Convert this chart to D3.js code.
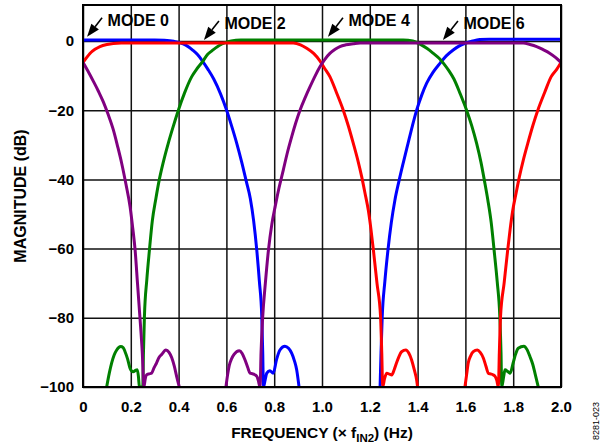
<!DOCTYPE html>
<html>
<head>
<meta charset="utf-8">
<script src="https://cdn.jsdelivr.net/npm/d3@7"></script>
<style>
  body { margin: 0; background: #fff; }
  text { font-family: "Liberation Sans", Arial, sans-serif; font-weight: bold; }
</style>
</head>
<body>
<div id="chart"></div>
<script>
// tick values
var xTicks = [0, 0.2, 0.4, 0.6, 0.8, 1.0, 1.2, 1.4, 1.6, 1.8, 2.0];
var yTicks = [0, -20, -40, -60, -80, -100];

// blue (mode 0) response, null = gap below -100 dB
var blueF = [0, 0.1, 0.2, 0.3, 0.34, 0.38, 0.406, 0.43, 0.46, 0.48, 0.5, 0.523, 0.547, 0.575, 0.601, 0.622, 0.643, 0.664, 0.683, 0.70, 0.714, 0.727, 0.738, 0.748, 0.752, 0.755,
  0.762, 0.769, 0.782, 0.796, 0.81, 0.824, 0.845, 0.86, 0.873, 0.885, 0.894, 0.904, null,
  1.243, 1.247, 1.252, 1.263, 1.276, 1.29, 1.305, 1.322, 1.34, 1.36, 1.378, 1.396, 1.418, 1.438, 1.465, 1.494, 1.52, 1.549, 1.575, 1.605, 1.63, 1.66, 1.7, 1.8, 2.0];
var blueDb = [0.3, 0.3, 0.3, 0.3, 0.2, -0.1, -0.5, -1.2, -2.7, -4.0, -5.8, -8.2, -11, -15.2, -20, -24.6, -29.5, -35, -40.5, -45.5, -52, -60.4, -69.5, -79.7, -90, -100,
  -98, -96, -95.3, -96, -92, -89.3, -88.2, -88.8, -90.2, -92.5, -95, -100, null,
  -100, -90, -79.7, -69.5, -60.4, -52.5, -46, -40.5, -35.2, -29.6, -24.6, -20, -15.5, -12.2, -9, -6.4, -4.3, -2.6, -1.4, -0.5, 0, 0.4, 0.5, 0.5, 0.5];

// green (mode 2)
var greenF = [0.099, 0.11, 0.12, 0.13, 0.141, 0.158, 0.168, 0.176, 0.187, 0.197, 0.21, 0.22, 0.227, 0.232, 0.236, 0.25, 0.253, 0.257, 0.267, 0.278, 0.29, 0.305, 0.318, 0.336, 0.357, 0.378, 0.399, 0.425, 0.455, 0.475, 0.5, 0.52, 0.54, 0.57, 0.595, 0.62, 0.66, 0.8, 1.0, 1.2, 1.34,
  1.38, 1.41, 1.44, 1.466, 1.49, 1.51, 1.53, 1.552, 1.578, 1.605, 1.627, 1.647, 1.665, 1.68, 1.694, 1.708, 1.72, 1.733, 1.744, 1.749, 1.752,
  1.76, 1.766, 1.777, 1.787, 1.8, 1.81, 1.821, 1.845, 1.858, 1.87, 1.882, 1.891, 1.905];
var greenDb = [-100, -96, -93, -90.8, -89.3, -88.3, -88.6, -89.8, -92, -94.6, -95.6, -95.2, -95, -97, -100, -100, -90, -79.7, -69, -60.4, -52, -45.5, -40.5, -35, -29.5, -24.6, -20, -15, -10.3, -8.2, -6.0, -4.0, -2.8, -1.3, -0.5, 0, 0.3, 0.3, 0.3, 0.3, 0.3,
  0, -0.9, -2.2, -3.6, -5.0, -6.6, -8.5, -11, -15.2, -20, -24.6, -29.6, -35, -40.5, -46, -52.5, -60.4, -69.5, -79.7, -90, -100,
  -97, -95, -95.5, -96, -93, -90.5, -88.8, -88.2, -89.2, -91.2, -93.5, -96, -100];

// red (mode 4)
var redF = [0, 0.015, 0.029, 0.05, 0.071, 0.1, 0.127, 0.16, 0.5, 0.88, 0.91, 0.936, 0.965, 0.992, 1.01, 1.033, 1.06, 1.089, 1.11, 1.131, 1.15, 1.166, 1.18, 1.194, 1.205, 1.215, 1.23, 1.245, 1.25, 1.254,
  1.262, 1.271, 1.282, 1.292, 1.302, 1.312, 1.322, 1.333, 1.351, 1.363, 1.375, 1.386, 1.396, 1.4, null,
  1.598, 1.605, 1.612, 1.622, 1.633, 1.65, 1.662, 1.675, 1.686, 1.696, 1.705, 1.717, 1.725, 1.731, 1.738, 1.742, 1.747, 1.762, 1.777, 1.787, 1.798, 1.812, 1.826, 1.842, 1.861, 1.882, 1.903, 1.932, 1.959, 1.982, 2.0];
var redDb = [-6.2, -4.8, -3.6, -2.4, -1.6, -1.0, -0.7, -0.6, -0.6, -0.6, -1.1, -2.1, -3.6, -5.8, -7.8, -10.3, -14.8, -20, -24.5, -29.6, -34.5, -39.2, -44, -49, -54.5, -60.4, -70, -79.7, -90, -100,
  -97.5, -96, -96.3, -96.5, -95, -93, -91.2, -89.8, -89.3, -90.2, -92.2, -95, -98, -100, null,
  -100, -96.5, -93, -91, -89.8, -89.3, -90, -91.6, -94, -96, -96.2, -96.5, -97, -98, -100, -90, -79.7, -70, -60.4, -54.5, -49, -44, -39.2, -34.5, -29.6, -24.5, -20, -14.8, -10.3, -8.2, -6.2];

// purple (mode 6)
var purpleF = [0, 0.02, 0.043, 0.065, 0.085, 0.105, 0.127, 0.145, 0.162, 0.18, 0.197, 0.208, 0.218, 0.228, 0.238, 0.248, 0.255,
  0.26, 0.266, 0.277, 0.287, 0.297, 0.308, 0.318, 0.329, 0.347, 0.36, 0.371, 0.382, 0.392, 0.403, null,
  0.598, 0.605, 0.612, 0.622, 0.632, 0.654, 0.666, 0.678, 0.689, 0.699, 0.71, 0.72, 0.728, 0.733, 0.741, 0.745, 0.752, 0.763, 0.776, 0.79, 0.805, 0.82, 0.838, 0.855, 0.873, 0.89, 0.908, 0.93, 0.95, 0.972, 0.992,
  1.012, 1.033, 1.055, 1.075, 1.1, 1.131, 1.16, 1.5, 1.842, 1.87, 1.898, 1.925, 1.954, 1.978, 2.0];
var purpleDb = [-6.2, -8.6, -11.6, -14.6, -17.6, -21.2, -25.7, -30.5, -35.4, -41.5, -47.9, -54, -60.4, -70, -79.7, -90, -100,
  -97.8, -96.5, -96.2, -96, -94.5, -93, -91.5, -90.6, -89.3, -90, -91.5, -94, -97, -100, null,
  -100, -96.5, -93.8, -91.8, -90.6, -89.5, -90.3, -92.2, -94.3, -96, -96.2, -96.5, -97, -98, -100, -90, -79.7, -70, -60.4, -53, -47.5, -42.5, -37.3, -32.3, -27.7, -23.7, -20, -16.3, -13.2, -10, -7.4,
  -5.3, -3.6, -2.4, -1.6, -1.1, -0.8, -0.6, -0.6, -0.6, -1.0, -1.6, -2.5, -3.6, -4.8, -6.2];

// arrow annotations
var modeLabels = ["MODE 0", "MODE 2", "MODE 4", "MODE 6"];
var modeF = [0.017, 0.506, 1.025, 1.506];
var modeDb = [1.2, 0.3, 1.2, 0.3];

var margin = {top: 5, right: 44, bottom: 57, left: 83},
  width = 605 - margin.left - margin.right,
  height = 444 - margin.top - margin.bottom;

var svg = d3.select("#chart").append("svg")
  .attr("width", 605)
  .attr("height", 444);
var g = svg.append("g")
  .attr("transform", "translate(" + margin.left + "," + margin.top + ")");

var x = d3.scaleLinear().domain([0, 2.0]).range([0, width]);
var y = d3.scaleLinear().domain([-100, 10.4]).range([height, 0]);

// grid + labels
var xAxis = g.append("g")
  .attr("transform", "translate(0," + height + ")")
  .call(d3.axisBottom(x)
    .tickValues(xTicks)
    .tickSizeInner(-height)
    .tickSizeOuter(0)
    .tickPadding(14)
    .tickFormat(function(d) { return d === 0 ? "0" : d3.format(".1f")(d); }));
var yAxis = g.append("g")
  .call(d3.axisLeft(y)
    .tickValues(yTicks)
    .tickSizeInner(-width)
    .tickSizeOuter(0)
    .tickPadding(9)
    .tickFormat(function(d) { return d === 0 ? "0" : "\u2212" + Math.abs(d); }));

[xAxis, yAxis].forEach(function(ax) {
  ax.select(".domain").remove();
  ax.selectAll("line").attr("stroke", "#111").attr("stroke-width", 1.5);
  ax.selectAll("text")
    .attr("fill", "#000")
    .style("font-size", "15px")
    .style("font-family", "'Liberation Sans', Arial, sans-serif")
    .style("font-weight", "bold");
});

g.append("clipPath").attr("id", "plotclip")
  .append("rect")
  .attr("x", 0).attr("y", 0)
  .attr("width", width).attr("height", height);

var line = d3.line()
  .defined(function(d) { return d[0] !== null; })
  .curve(d3.curveMonotoneX)
  .x(function(d) { return x(d[0]); })
  .y(function(d) { return y(d[1]); });

var series = [
  {f: blueF, db: blueDb, color: "#0000ff"},
  {f: greenF, db: greenDb, color: "#008000"},
  {f: redF, db: redDb, color: "#ff0000"},
  {f: purpleF, db: purpleDb, color: "#800080"}
];

var curves = g.append("g").attr("clip-path", "url(#plotclip)");
series.forEach(function(s) {
  var pts = s.f.map(function(f, i) { return [f, s.db[i]]; });
  curves.append("path")
    .datum(pts)
    .attr("fill", "none")
    .attr("stroke", s.color)
    .attr("stroke-width", 3)
    .attr("stroke-linejoin", "round")
    .attr("d", line);
});

// frame
g.append("rect")
  .attr("width", width)
  .attr("height", height)
  .attr("fill", "none")
  .attr("stroke", "#000")
  .attr("stroke-width", 2);

// mode arrows
modeLabels.forEach(function(lbl, i) {
  var tx = x(modeF[i]), ty = y(modeDb[i]);
  var dx = 15, dy = -19, len = Math.sqrt(dx * dx + dy * dy);
  var ux = dx / len, uy = dy / len;
  var hl = 13, hw = 4.8;
  var bx = tx + ux * hl, by = ty + uy * hl;
  g.append("line")
    .attr("x1", bx).attr("y1", by)
    .attr("x2", tx + dx).attr("y2", ty + dy)
    .attr("stroke", "#000").attr("stroke-width", 1.6);
  g.append("path")
    .attr("d", "M" + tx + "," + ty +
      "L" + (bx - uy * hw) + "," + (by + ux * hw) +
      "L" + (bx + uy * hw) + "," + (by - ux * hw) + "Z")
    .attr("fill", "#000");
  g.append("text")
    .attr("x", tx + 20.5)
    .attr("y", ty - 10.5)
    .style("font-size", "16px")
    .text(lbl);
});

// axis titles
var xt = svg.append("text")
  .attr("x", margin.left + width / 2)
  .attr("y", 437.5)
  .attr("text-anchor", "middle")
  .style("font-size", "15.5px");
xt.append("tspan").text("FREQUENCY (\u00d7 f");
xt.append("tspan").attr("dy", 4).style("font-size", "11.5px").text("IN2");
xt.append("tspan").attr("dy", -4).text(") (Hz)");

svg.append("text")
  .attr("transform", "translate(26," + (margin.top + height / 2) + ") rotate(-90)")
  .attr("text-anchor", "middle")
  .style("font-size", "16px")
  .text("MAGNITUDE (dB)");

svg.append("text")
  .attr("transform", "translate(599,421) rotate(-90)")
  .attr("text-anchor", "middle")
  .style("font-size", "9px")
  .style("font-weight", "normal")
  .text("8281-023");
</script>
</body>
</html>
